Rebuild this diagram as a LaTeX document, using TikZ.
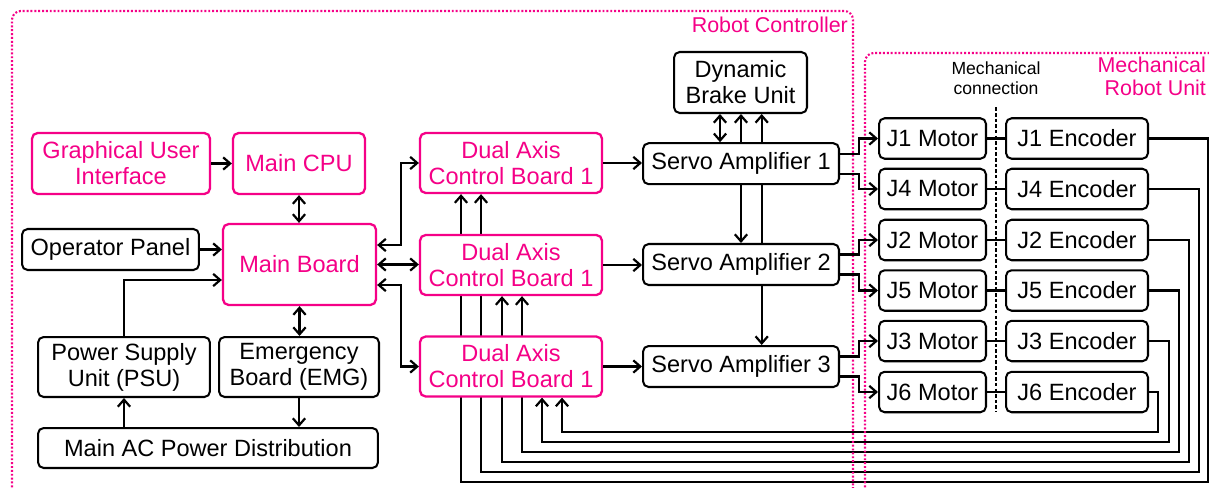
\documentclass[tikz,border=0pt]{standalone}
\usepackage{fontspec}
\setmainfont{Liberation Sans}
\usetikzlibrary{arrows.meta,calc,backgrounds}
\definecolor{pk}{RGB}{245,0,135}
\begin{document}
\begin{tikzpicture}[x=0.02cm,y=-0.02cm, line width=1.25pt,
  >={Straight Barb[length=4pt,width=7pt]},
  wire/.style={line width=1.25pt},
  box/.style={draw, line width=1.15pt, rounded corners=3.2pt, fill=white, inner sep=1pt, align=center,
    font=\fontsize{13.4}{14.8}\selectfont},
  pbox/.style={box, draw=pk, text=pk, line width=1.3pt},
  dacb/.style={pbox, minimum width=3.64cm, minimum height=1.2cm},
  sabox/.style={box, minimum width=3.92cm, minimum height=0.82cm},
  motor/.style={box, minimum width=2.14cm, minimum height=0.81cm},
  enc/.style={box, minimum width=2.84cm, minimum height=0.81cm},
  region/.style={draw=pk, line width=1.2pt, dash pattern=on 1.1pt off 1.1pt, rounded corners=5pt},
  rlabel/.style={text=pk, inner sep=0pt, align=right, font=\fontsize{12.2}{13}\selectfont}]
\useasboundingbox (0,0) rectangle (1209,487);

% regions
\draw[region] (12,495) -- (12,11) -- (853,11) -- (853,495);
\draw[region] (865,495) -- (865,53) -- (1220,53);
\node[rlabel, anchor=east] (rc) at (849,25) {Robot Controller};
\node[rlabel, anchor=east] (mru) at (1207,76.5) {Mechanical\\Robot Unit};
\node[inner sep=0pt, align=center, font=\fontsize{10}{11.3}\selectfont] (mc) at (996,78) {Mechanical\\connection};

% left part
\node[pbox, minimum width=3.56cm, minimum height=1.22cm] (gui) at (121,163.5) {Graphical User\\Interface};
\node[pbox, minimum width=2.64cm, minimum height=1.22cm] (cpu) at (299,163.5) {Main CPU};
\node[box, minimum width=3.54cm, minimum height=0.82cm] (op) at (110.5,249.5) {Operator Panel};
\node[pbox, minimum width=3.06cm, minimum height=1.62cm] (mb) at (299.5,264.5) {Main Board};
\node[box, minimum width=3.44cm, minimum height=1.2cm] (psu) at (124,367) {Power Supply\\Unit (PSU)};
\node[box, minimum width=3.2cm, minimum height=1.2cm] (emg) at (299,367) {Emergency\\Board (EMG)};
\node[box, minimum width=6.8cm, minimum height=0.8cm] (ac) at (208,448) {Main AC Power Distribution};

% control boards
\node[dacb] (d1) at (511,163) {Dual Axis\\Control Board 1};
\node[dacb] (d2) at (511,265) {Dual Axis\\Control Board 1};
\node[dacb] (d3) at (511,366.5) {Dual Axis\\Control Board 1};

% servo part
\node[box, minimum width=2.66cm, minimum height=1.22cm] (dbu) at (740.5,82.5) {Dynamic\\Brake Unit};
\node[sabox] (sa1) at (741,163.7) {Servo Amplifier 1};
\node[sabox] (sa2) at (741,264.5) {Servo Amplifier 2};
\node[sabox] (sa3) at (741,366.5) {Servo Amplifier 3};

% motors and encoders
\node[motor] (m1) at (932.5,138.5) {J1 Motor};
\node[motor] (m4) at (932.5,189) {J4 Motor};
\node[motor] (m2) at (932.5,240) {J2 Motor};
\node[motor] (m5) at (932.5,290.5) {J5 Motor};
\node[motor] (m3) at (932.5,341) {J3 Motor};
\node[motor] (m6) at (932.5,392) {J6 Motor};
\node[enc] (e1) at (1077,138.5) {J1 Encoder};
\node[enc] (e4) at (1077,189) {J4 Encoder};
\node[enc] (e2) at (1077,240) {J2 Encoder};
\node[enc] (e5) at (1077,290.5) {J5 Encoder};
\node[enc] (e3) at (1077,341) {J3 Encoder};
\node[enc] (e6) at (1077,392) {J6 Encoder};

% mechanical connection line
\draw[line width=0.9pt, dash pattern=on 2pt off 1.2pt] ($(mc.south)+(0,12)$) -- (996,412);

% left connectors
\draw[wire,->] (gui.east) -- (gui.east -| cpu.west);
\draw[wire,<->] (cpu.south) -- (cpu.south |- mb.north);
\draw[wire,->] (op.east) -- (op.east -| mb.west);
\draw[wire,->] (psu.north) |- ($(mb.west)+(0,15.5)$);
\draw[wire,<->] (mb.south) -- (mb.south |- emg.north);
\draw[wire,->] (emg.south) -- (emg.south |- ac.north);
\draw[wire,->] (ac.north -| psu.south) -- (psu.south);

% main board to control boards
\draw[wire,<->] ($(mb.east)+(0,-19.5)$) -- ++(24,0) |- (d1.west);
\draw[wire,<->] (mb.east) -- (mb.east -| d2.west);
\draw[wire,<->] ($(mb.east)+(0,20.5)$) -- ++(24,0) |- (d3.west);

% control boards to servo amplifiers
\draw[wire,->] (d1.east) -- (d1.east -| sa1.west);
\draw[wire,->] (d2.east) -- (d2.east -| sa2.west);
\draw[wire,->] (d3.east) -- (d3.east -| sa3.west);

% servo amplifier 1 to dynamic brake unit
\draw[wire,<->] ([xshift=-0.42cm]sa1.north) -- ([xshift=-0.42cm]sa1.north |- dbu.south);

% servo amplifiers to motors
\draw[wire,->] ($(sa1.east)+(0,-10)$) -- ++(19,0) |- (m1.west);
\draw[wire,->] ($(sa1.east)+(0,10)$) -- ++(19,0) |- (m4.west);
\draw[wire,->] ($(sa2.east)+(0,-10)$) -- ++(19,0) |- (m2.west);
\draw[wire,->] ($(sa2.east)+(0,10)$) -- ++(19,0) |- (m5.west);
\draw[wire,->] ($(sa3.east)+(0,-10)$) -- ++(19,0) |- (m3.west);
\draw[wire,->] ($(sa3.east)+(0,10)$) -- ++(19,0) |- (m6.west);

% motor - encoder
\foreach \j in {1,2,3,4,5,6} { \draw[wire] (m\j.east) -- (e\j.west); }

\begin{scope}[on background layer]
\draw[wire,<->] (sa2.north) -- (sa2.north |- dbu.south);
\draw[wire,<->] ([xshift=0.414cm]sa3.north) -- ([xshift=0.414cm]sa3.north |- dbu.south);
% encoder feedback
\draw[wire,->] (e1.east) -| (1208,482) -| ($(d1.south)+(-50,0)$);
\draw[wire,->] (e4.east) -| (1199,472) -| ($(d1.south)+(-30,0)$);
\draw[wire,->] (e2.east) -| (1189,462) -| ($(d2.south)+(-9,0)$);
\draw[wire,->] (e5.east) -| (1179,452) -| ($(d2.south)+(11,0)$);
\draw[wire,->] (e3.east) -| (1169,442) -| ($(d3.south)+(31,0)$);
\draw[wire,->] (e6.east) -| (1158,432) -| ($(d3.south)+(51,0)$);
\end{scope}
\end{tikzpicture}
\end{document}
